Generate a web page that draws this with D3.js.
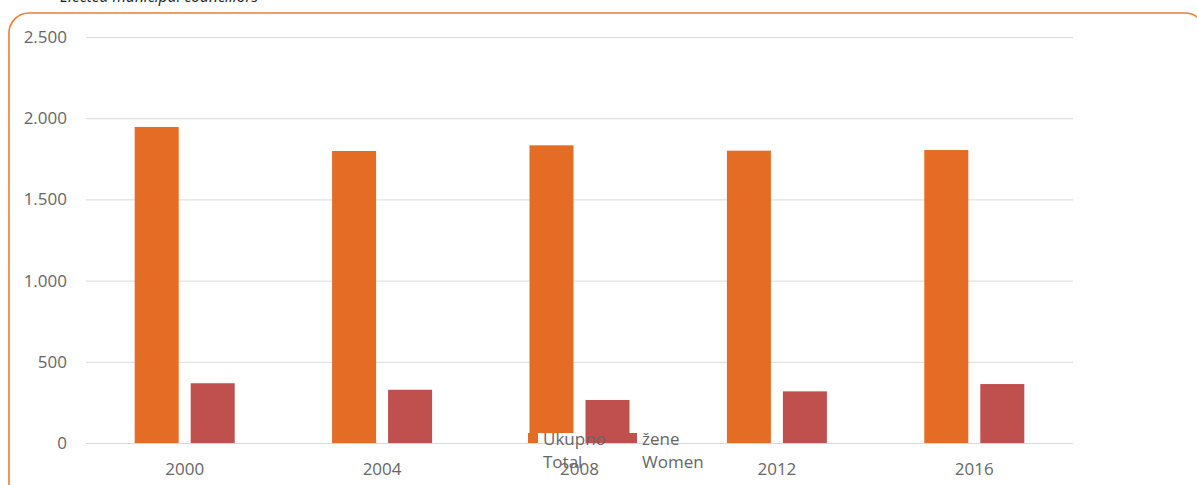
<!DOCTYPE html>
<html>
<head>
<meta charset="utf-8">
<script src="https://cdn.jsdelivr.net/npm/d3@7"></script>
<style>
  body { margin: 0; background: #fff; }
  text { font-family: "Open Sans", "Noto Sans", sans-serif; }
</style>
</head>
<body>
<div id="chart"></div>
<script>
// data
var years = ["2000", "2004", "2008", "2012", "2016"]
var total = [1946, 1798, 1833, 1800, 1804]
var women = [368, 328, 265, 318, 363]
var series = ["Ukupno", "žene"]
var seriesEn = ["Total", "Women"]
var yTicks = [0, 500, 1000, 1500, 2000, 2500]

var width = 1197
var height = 485

var svg = d3.select("#chart")
  .append("svg")
    .attr("width", width)
    .attr("height", height);

// rounded frame, partly outside the picture
svg.append("rect")
  .attr("x", 9).attr("y", 13)
  .attr("width", 1196).attr("height", 500)
  .attr("rx", 20).attr("ry", 20)
  .attr("fill", "none")
  .attr("stroke", "#ED7D31")
  .attr("stroke-width", 1.6);

// title, cut at the top
svg.append("text")
  .attr("x", 60).attr("y", 2)
  .attr("font-style", "italic")
  .attr("font-size", 15.5)
  .attr("fill", "#1a1a1a")
  .text("Elected municipal councillors");

var x0 = d3.scaleBand()
  .domain(years)
  .range([86, 1073])
  .paddingInner(0.4934)
  .paddingOuter(0.2467);

var x1 = d3.scaleBand()
  .domain(series)
  .range([0, x0.bandwidth()])
  .paddingInner(0.214);

var y = d3.scaleLinear()
  .domain([0, 2500])
  .range([443, 37]);

var color = d3.scaleOrdinal()
  .domain(series)
  .range(["#E46C24", "#C0504D"]);

// grid lines
svg.append("g")
  .selectAll("line")
  .data(yTicks)
  .enter()
  .append("line")
    .attr("x1", 86).attr("x2", 1073)
    .attr("y1", function(d){ return y(d) + 0.5 })
    .attr("y2", function(d){ return y(d) + 0.5 })
    .attr("stroke", "#D9D9D9")
    .attr("stroke-width", 1);

// y tick labels
svg.append("g")
  .selectAll("text")
  .data(yTicks)
  .enter()
  .append("text")
    .attr("x", 67)
    .attr("y", function(d){ return y(d) + 6 })
    .attr("text-anchor", "end")
    .attr("font-size", 17)
    .attr("fill", "#666")
    .text(function(d){ return d3.format(",")(d).replace(/,/g, ".") });

// bars
var rows = years.map(function(yr, i){
  return { year: yr, values: [ { key: series[0], v: total[i] }, { key: series[1], v: women[i] } ] }
});

var groups = svg.append("g")
  .selectAll("g")
  .data(rows)
  .enter()
  .append("g")
    .attr("transform", function(d){ return "translate(" + x0(d.year) + ",0)" });

groups.selectAll("rect")
  .data(function(d){ return d.values })
  .enter()
  .append("rect")
    .attr("x", function(d){ return x1(d.key) })
    .attr("width", x1.bandwidth())
    .attr("y", function(d){ return y(d.v) })
    .attr("height", function(d){ return y(0) - y(d.v) })
    .attr("fill", function(d){ return color(d.key) });

// x labels
svg.append("g")
  .selectAll("text")
  .data(years)
  .enter()
  .append("text")
    .attr("x", function(d){ return x0(d) + x0.bandwidth() / 2 })
    .attr("y", 475)
    .attr("text-anchor", "middle")
    .attr("font-size", 17)
    .attr("fill", "#666")
    .text(function(d){ return d });

// legend, sitting over the axis like in the original
var legend = svg.append("g")
  .selectAll("g")
  .data(series)
  .enter()
  .append("g")
    .attr("transform", function(d, i){ return "translate(" + (528 + i * 99) + ",433)" });

// white box behind the legend entry hides the bottom of the 2008 bar
legend.append("rect")
  .attr("x", 10).attr("width", 45).attr("height", 10)
  .attr("fill", "#fff");

legend.append("rect")
  .attr("width", 10).attr("height", 10)
  .attr("fill", function(d){ return color(d) });

legend.append("text")
  .attr("x", 15).attr("y", 12)
  .attr("font-size", 17)
  .attr("fill", "#666")
  .text(function(d){ return d });

legend.append("text")
  .attr("x", 15).attr("y", 35)
  .attr("font-size", 17)
  .attr("fill", "#666")
  .text(function(d, i){ return seriesEn[i] });
</script>
</body>
</html>
